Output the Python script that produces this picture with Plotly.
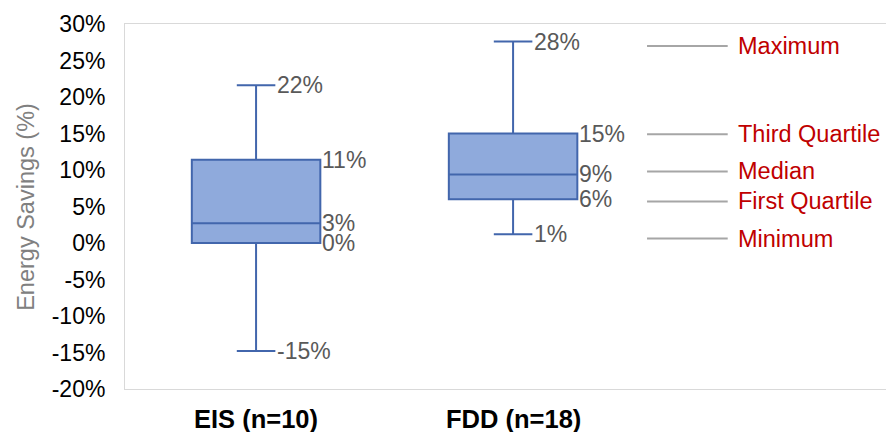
import plotly.graph_objects as go

# ---- data ----
categories = ["EIS (n=10)", "FDD (n=18)"]
minimum = [-14.8, 1.2]
first_quartile = [0.0, 6.0]
median = [2.7, 9.4]
third_quartile = [11.4, 15.0]
maximum = [21.6, 27.6]

y_ticks = list(range(-20, 31, 5))
y_tick_labels = [f"{v}%" for v in y_ticks]

legend_labels = ["Maximum", "Third Quartile", "Median", "First Quartile", "Minimum"]
legend_levels = [27.0, 14.9, 9.8, 5.7, 0.6]

FONT = "Arial, 'Liberation Sans', sans-serif"
FS = 23
BOX_W = 0.5
WHISK = 0.3

fig = go.Figure()
xs = list(range(len(categories)))
fig.add_trace(go.Box(
    x=xs, q1=first_quartile, median=median, q3=third_quartile,
    lowerfence=minimum, upperfence=maximum,
    width=BOX_W, whiskerwidth=WHISK, boxpoints=False,
    fillcolor="#8FAADC", line=dict(color="#4266AC", width=2),
    showlegend=False, hoverinfo="skip",
))

ann = []
for i in xs:
    for val, on_whisker in [(maximum[i], True), (third_quartile[i], False),
                            (median[i], False), (first_quartile[i], False),
                            (minimum[i], True)]:
        xpos = i + (BOX_W / 2) * (WHISK if on_whisker else 1.0)
        ann.append(dict(x=xpos, y=val, xref="x", yref="y",
                        text=f"{round(val):.0f}%", showarrow=False,
                        xanchor="left", yanchor="middle", xshift=0,
                        font=dict(family=FONT, size=FS, color="#595959")))

# category labels (centred under each box)
for i, lbl in zip(xs, categories):
    ann.append(dict(x=i, y=-0.082, xref="x", yref="paper", text=f"<b>{lbl}</b>",
                    showarrow=False, xanchor="center", yanchor="middle",
                    font=dict(family=FONT, size=25.5, color="#000000")))

# y-axis title
ann.append(dict(x=-0.131, y=0.5, xref="paper", yref="paper", text="Energy Savings (%)",
                textangle=-90, showarrow=False, xanchor="center", yanchor="middle",
                font=dict(family=FONT, size=23.5, color="#808080")))

shapes = []
for lbl, lev in zip(legend_labels, legend_levels):
    shapes.append(dict(type="line", xref="paper", yref="y", x0=0.686, x1=0.792,
                       y0=lev, y1=lev, line=dict(color="#A6A6A6", width=2)))
    ann.append(dict(x=0.803, y=lev, xref="paper", yref="y", text=lbl, showarrow=False,
                    xanchor="left", yanchor="middle",
                    font=dict(family=FONT, size=23.5, color="#C00000")))

fig.update_layout(
    width=886, height=432,
    margin=dict(l=125, r=0, t=24, b=43),
    paper_bgcolor="white", plot_bgcolor="white",
    annotations=ann, shapes=shapes,
    xaxis=dict(range=[-0.51, 2.451], showticklabels=False, showgrid=False,
               zeroline=False, showline=True, mirror=True, linecolor="#D9D9D9",
               linewidth=1, ticks=""),
    yaxis=dict(range=[-20, 30], tickvals=y_ticks, ticktext=y_tick_labels,
               showgrid=False, zeroline=False, showline=True, mirror=True,
               linecolor="#D9D9D9", linewidth=1, ticks="", ticklabelstandoff=14,
               tickfont=dict(family=FONT, size=FS, color="#000000")),
    font=dict(family=FONT),
)

fig.write_html("out.html", config={"displayModeBar": False},
               post_script="document.body.style.margin='0';")
